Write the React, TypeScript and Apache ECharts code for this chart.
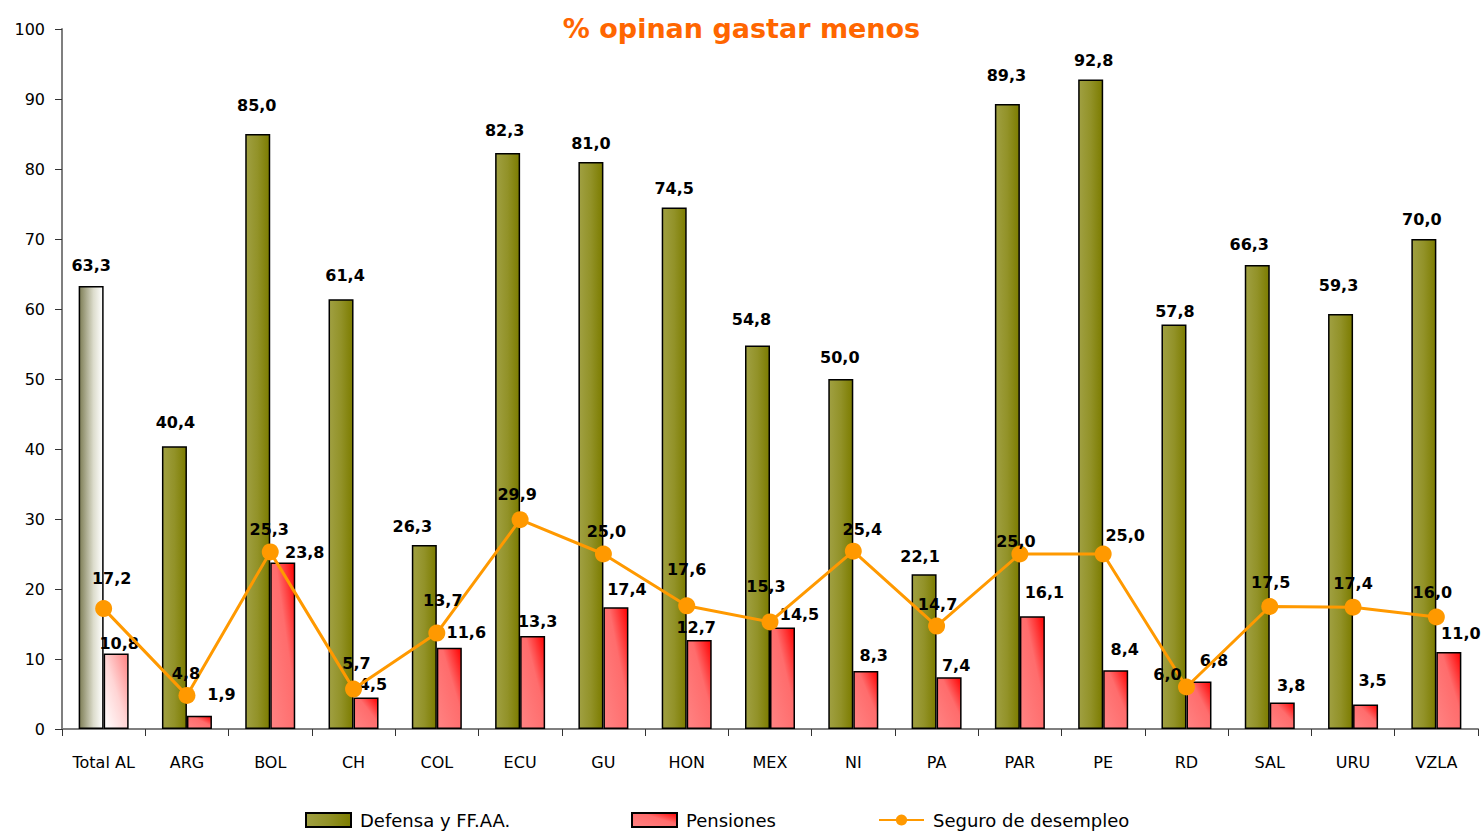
import React, { useEffect, useRef } from "react";
import * as echarts from "echarts";

const categories = ["Total AL", "ARG", "BOL", "CH", "COL", "ECU", "GU", "HON", "MEX", "NI", "PA", "PAR", "PE", "RD", "SAL", "URU", "VZLA"];
const defensa = [63.3, 40.4, 85.0, 61.4, 26.3, 82.3, 81.0, 74.5, 54.8, 50.0, 22.1, 89.3, 92.8, 57.8, 66.3, 59.3, 70.0];
const pensiones = [10.8, 1.9, 23.8, 4.5, 11.6, 13.3, 17.4, 12.7, 14.5, 8.3, 7.4, 16.1, 8.4, 6.8, 3.8, 3.5, 11.0];
const seguro = [17.2, 4.8, 25.3, 5.7, 13.7, 29.9, 25.0, 17.6, 15.3, 25.4, 14.7, 25.0, 25.0, 6.0, 17.5, 17.4, 16.0];
const yTicks = { min: 0, max: 100, interval: 10 };

// label placement nudges (style only): [dx, distance above mark]
const defNudge: [number, number][] = [
  [0, 20], [1, 24], [-1, 29], [4, 24], [-12, 18], [-3, 22], [0, 19], [0, 19], [-6, 26],
  [-1, 22], [-4, 18], [-1, 28], [3, 19], [1, 13], [-8, 20], [-2, 28], [-2, 20],
];
const pensNudge: [number, number][] = [
  [3, 10], [22, 21], [22, 10], [7, 13], [17, 15], [5, 14], [11, 18], [-3, 13], [17, 13],
  [8, 15], [7, 12], [12, 24], [9, 21], [15, 21], [9, 17], [7, 24], [12, 19],
];
const segNudge: [number, number][] = [
  [8, 30], [-1, 22], [-1, 22], [3, 26], [6, 33], [-3, 25], [3, 23], [0, 36], [-4, 35],
  [9, 22], [1, 22], [-4, 13], [22, 19], [-19, 13], [1, 24], [0, 24], [-4, 25],
];

const fmt = (v: number) => v.toFixed(1).replace(".", ",");
const FONT = "'DejaVu Sans', sans-serif";

export default function App() {
  const ref = useRef<HTMLDivElement>(null);
  useEffect(() => {
    if (!ref.current) return;
    const chart = echarts.init(ref.current, null, { renderer: "svg" });
    const olive = new echarts.graphic.LinearGradient(0, 0, 1, 0, [
      { offset: 0, color: "#a0a042" },
      { offset: 0.5, color: "#929228" },
      { offset: 1, color: "#7c7c00" },
    ]);
    const pink = new echarts.graphic.LinearGradient(0, 1, 1, 0, [
      { offset: 0, color: "#ff8383" },
      { offset: 0.6, color: "#ff6c6c" },
      { offset: 1, color: "#ff0000" },
    ]);
    const totalOlive = new echarts.graphic.LinearGradient(0, 0, 1, 0, [
      { offset: 0, color: "#7d7d55" },
      { offset: 0.6, color: "#dcdccc" },
      { offset: 1, color: "#ffffff" },
    ]);
    const totalPink = new echarts.graphic.LinearGradient(0, 1, 1, 0, [
      { offset: 0, color: "#ffffff" },
      { offset: 0.5, color: "#ffd5d5" },
      { offset: 1, color: "#ff8080" },
    ]);
    const labelBase = { show: true, fontFamily: FONT, fontWeight: "bold", fontSize: 16, color: "#000" };
    const legendText = { fontSize: 18, fontFamily: FONT, color: "#000", padding: [0, 0, 0, 4] };
    const legendCommon = { top: 811, padding: 0, itemWidth: 45, itemHeight: 14, textStyle: legendText, itemGap: 0 };
    chart.setOption({
      animation: false,
      backgroundColor: "#ffffff",
      title: {
        text: "% opinan gastar menos",
        left: "center",
        top: 10,
        textStyle: { color: "#ff6600", fontSize: 27, fontWeight: "bold", fontFamily: FONT },
      },
      grid: { left: 62, right: 5, top: 29, bottom: 103, containLabel: false },
      legend: [
        { ...legendCommon, left: 305, data: [{ name: "Defensa y FF.AA.", icon: "rect" }] },
        { ...legendCommon, left: 631, data: [{ name: "Pensiones", icon: "rect" }] },
        { ...legendCommon, left: 878, data: ["Seguro de desempleo"] },
      ],
      xAxis: {
        type: "category",
        data: categories,
        boundaryGap: true,
        axisLine: { lineStyle: { color: "#7f7f7f", width: 2 } },
        axisTick: { show: true, length: 7, lineStyle: { color: "#333", width: 1 } },
        axisLabel: { color: "#000", fontSize: 16, fontFamily: FONT, margin: 25 },
      },
      yAxis: {
        type: "value",
        min: yTicks.min,
        max: yTicks.max,
        interval: yTicks.interval,
        axisLine: { show: true, lineStyle: { color: "#7f7f7f", width: 2 } },
        axisTick: { show: true, length: 7, lineStyle: { color: "#333", width: 1 } },
        splitLine: { show: false },
        axisLabel: { color: "#000", fontSize: 16, fontFamily: FONT, margin: 17 },
      },
      series: [
        {
          name: "Defensa y FF.AA.",
          type: "bar",
          barWidth: 25,
          barGap: "0%",
          itemStyle: { color: olive, borderColor: "#000", borderWidth: 1.5 },
          label: { ...labelBase, position: "top", distance: 0, formatter: (p: any) => fmt(p.value) },
          data: defensa.map((v, i) => {
            const item: any = { value: v, label: { offset: [defNudge[i][0], -(defNudge[i][1] - 8)] } };
            if (i === 0) item.itemStyle = { color: totalOlive };
            return item;
          }),
          z: 2,
        },
        {
          name: "Pensiones",
          type: "bar",
          barWidth: 25,
          barGap: "0%",
          itemStyle: { color: pink, borderColor: "#000", borderWidth: 1.5 },
          label: { ...labelBase, position: "top", distance: 0, formatter: (p: any) => fmt(p.value) },
          data: pensiones.map((v, i) => {
            const item: any = { value: v, label: { offset: [pensNudge[i][0], -(pensNudge[i][1] - 8)] } };
            if (i === 0) item.itemStyle = { color: totalPink };
            return item;
          }),
          z: 2,
        },
        {
          name: "Seguro de desempleo",
          type: "line",
          symbol: "circle",
          symbolSize: 17,
          itemStyle: { color: "#ff9900" },
          lineStyle: { color: "#ff9900", width: 3 },
          label: { ...labelBase, position: "top", distance: 0, formatter: (p: any) => fmt(p.value) },
          data: seguro.map((v, i) => ({
            value: v,
            label: { offset: [segNudge[i][0], -(segNudge[i][1] - 16.5)] },
          })),
          z: 5,
        },
      ],
    });
    return () => chart.dispose();
  }, []);
  return (
    <div
      ref={ref}
      style={{ position: "fixed", left: 0, top: 0, width: 1483, height: 832, background: "#fff" }}
    />
  );
}
